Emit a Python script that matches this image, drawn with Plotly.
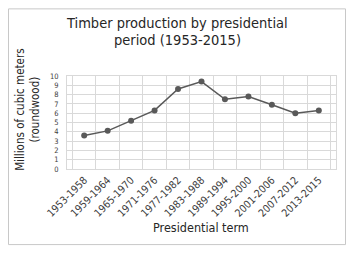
import plotly.graph_objects as go

terms = ["1953-1958", "1959-1964", "1965-1970", "1971-1976", "1977-1982",
         "1983-1988", "1989-1994", "1995-2000", "2001-2006", "2007-2012", "2013-2015"]
production = [3.6, 4.1, 5.2, 6.3, 8.6, 9.4, 7.5, 7.8, 6.9, 6.0, 6.3]
y_ticks = list(range(0, 11))
title_lines = ["Timber production by presidential", "period (1953-2015)"]

# the page has an 8px body margin on every side: size the figure so the page
# fits the 354x254 window exactly, and work in page coordinates
OFF = 8
W, H = 354 - 2 * OFF, 254 - 2 * OFF
PL, PR, PT, PB = 67, 336, 76, 169.5          # plot box in page pixels
L, T = PL - OFF, PT - OFF
R, B = W - (PR - OFF), H - (PB - OFF)
pw, ph = PR - PL, PB - PT

def px(x):
    return (x - PL) / pw

def py(y):
    return (PB - y) / ph

FONT = "DejaVu Sans Condensed, Liberation Sans Narrow, DejaVu Sans"
GRAY = "#595959"
TXT = "#262626"

fig = go.Figure(go.Scatter(
    x=terms, y=production, mode="lines+markers",
    line=dict(color=GRAY, width=1.5),
    marker=dict(color=GRAY, size=6),
))

title_anns = [dict(text=t, xref="paper", yref="paper", x=px(177), y=py(yc),
                   xanchor="center", yanchor="middle", showarrow=False,
                   font=dict(family=FONT, size=14.5, color=TXT))
              for t, yc in zip(title_lines, [23, 39.5])]

fig.update_layout(
    width=W, height=H,
    margin=dict(l=L, r=R, t=T, b=B, pad=0),
    paper_bgcolor="white", plot_bgcolor="white",
    showlegend=False,
    font=dict(family=FONT, color=GRAY),
    xaxis=dict(type="category", tickson="boundaries", showgrid=True,
               gridcolor="#d9d9d9", gridwidth=1, ticks="outside", ticklen=8,
               tickcolor="rgba(0,0,0,0)", tickangle=-45,
               tickfont=dict(size=10.5, color="#404040"),
               showline=True, linecolor="#d9d9d9", mirror=True),
    yaxis=dict(range=[0, 10], tickvals=y_ticks, showgrid=True,
               gridcolor="#d9d9d9", gridwidth=1, ticks="outside", ticklen=6,
               tickcolor="rgba(0,0,0,0)",
               tickfont=dict(size=7.5, color="#404040"),
               showline=True, linecolor="#d9d9d9", mirror=True, zeroline=False),
    shapes=[dict(type="rect", xref="paper", yref="paper",
                 x0=px(OFF + 0.5), x1=px(OFF + W - 0.5),
                 y0=py(OFF + H - 0.5), y1=py(OFF + 0.5),
                 line=dict(color="#c8c8c8", width=1), layer="above")],
    annotations=title_anns + [
        dict(text="Millions of cubic meters<br>(roundwood)",
             xref="paper", yref="paper", x=px(28), y=py(110),
             xanchor="center", yanchor="middle", textangle=-90,
             showarrow=False,
             font=dict(family=FONT, size=11.5, color=TXT)),
        dict(text="Presidential term",
             xref="paper", yref="paper", x=px(201), y=py(228),
             xanchor="center", yanchor="middle", showarrow=False,
             font=dict(family=FONT, size=12.5, color=TXT)),
    ],
)

fig.write_html("out.html")
